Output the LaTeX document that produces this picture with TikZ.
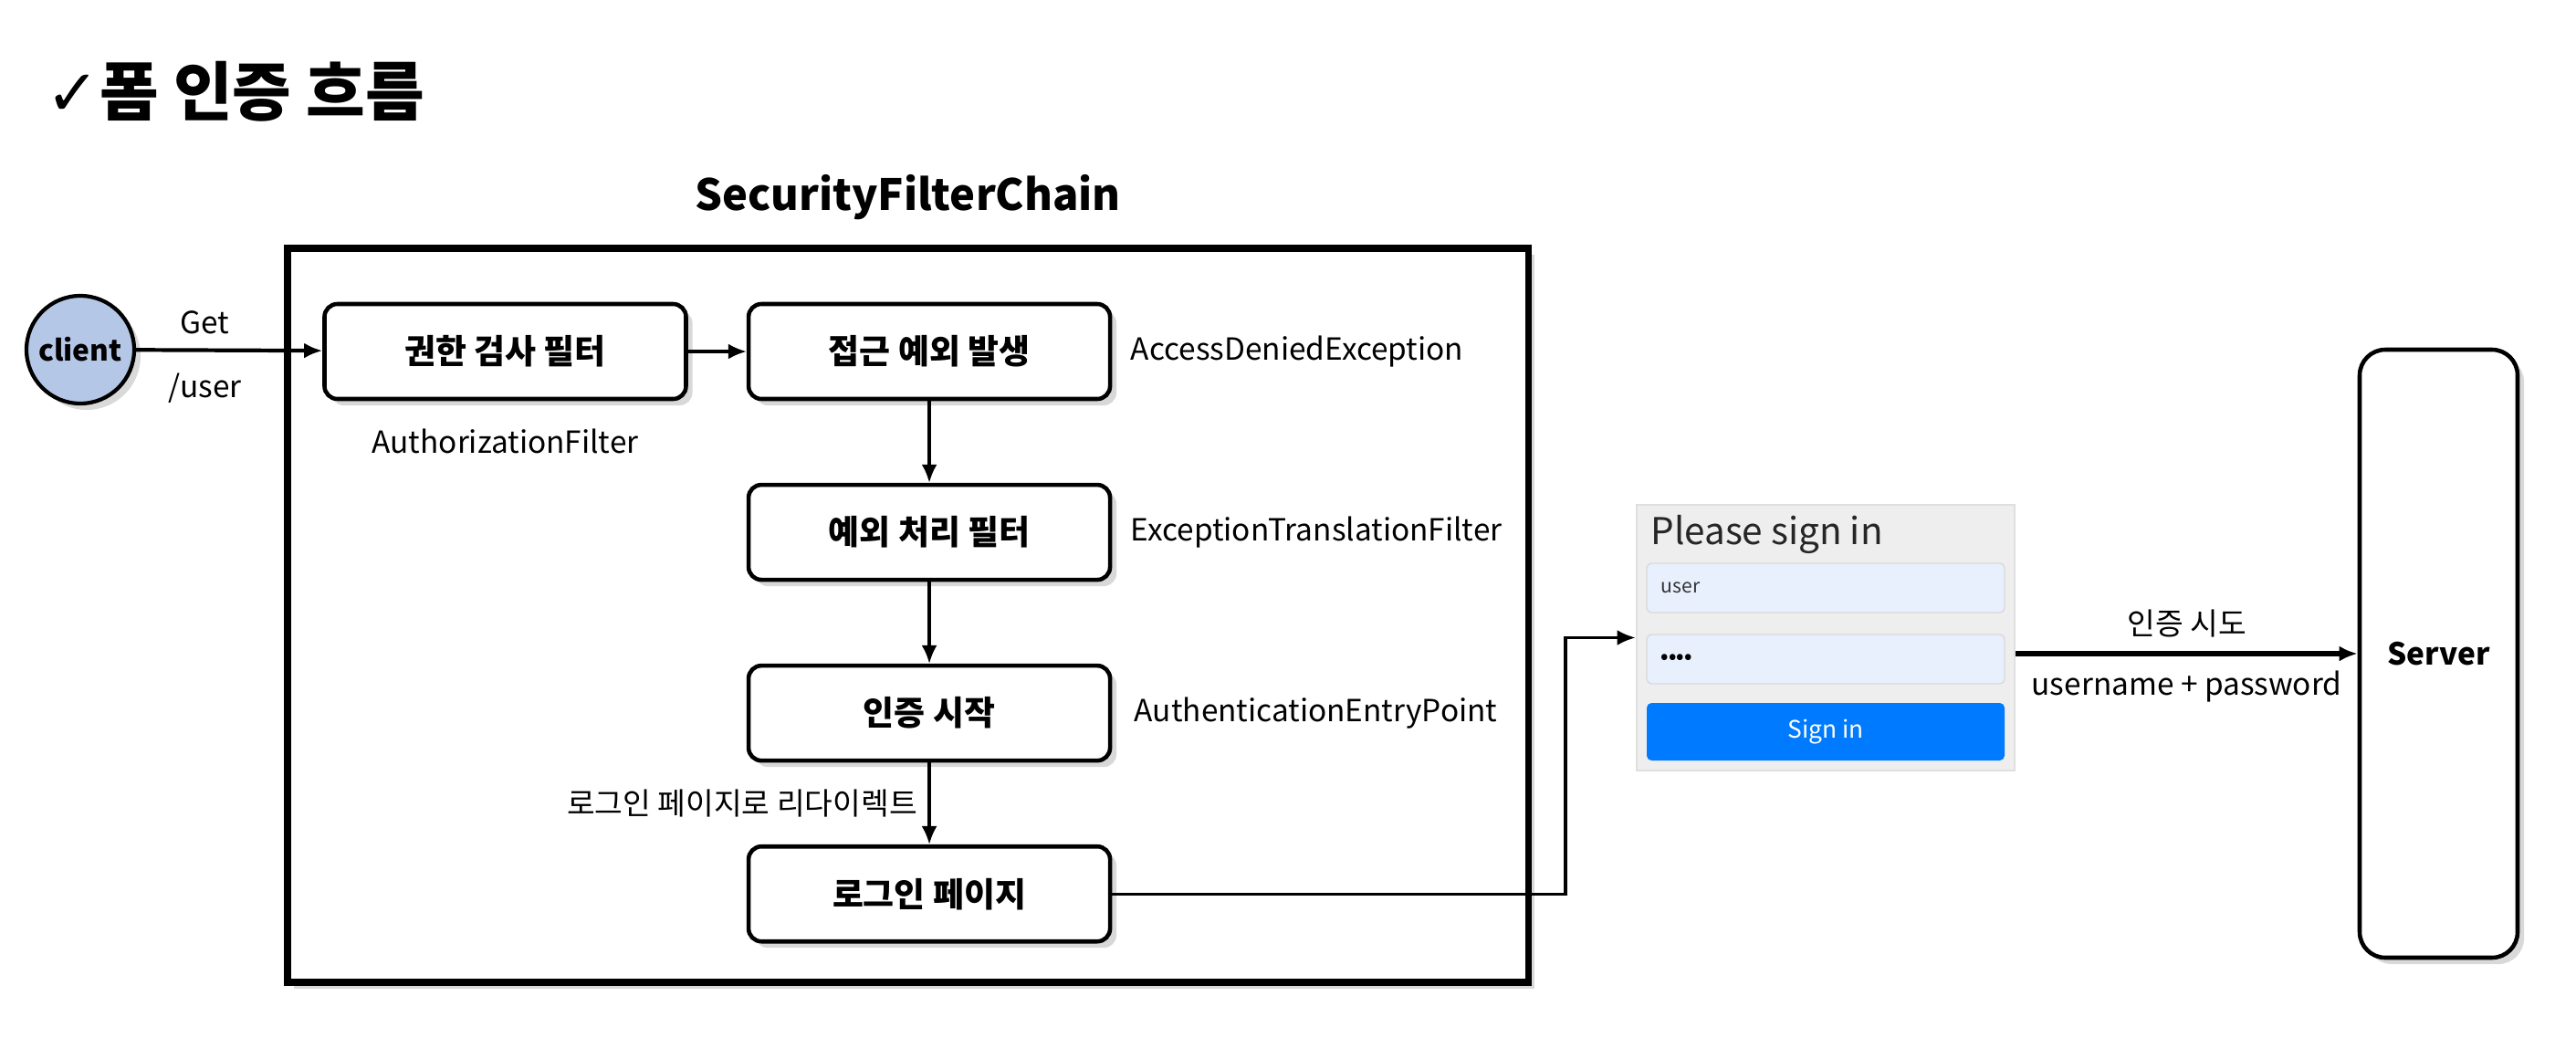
\documentclass[tikz,border=0pt]{standalone}
\usepackage{fontspec}
\setmainfont{Noto Sans CJK KR}
\newfontfamily\symfont{DejaVu Sans}
\usetikzlibrary{arrows.meta, positioning, shadows}

\definecolor{clientblue}{HTML}{B4C7E7}
\definecolor{fieldblue}{HTML}{E8F0FE}
\definecolor{btnblue}{HTML}{007BFF}
\definecolor{formgray}{HTML}{EEEEEE}

\begin{document}
\begin{tikzpicture}[
    node distance=0.895cm and 0.64cm,
    box/.style={draw, rectangle, rounded corners=4pt, line width=1.3pt, minimum width=3.96cm, minimum height=1.04cm, text centered, align=center, font=\bfseries\fontsize{10.5}{12}\selectfont, fill=white, drop shadow={shadow xshift=2pt, shadow yshift=-2pt, opacity=0.3}},
    field/.style={draw=gray!30, rectangle, rounded corners=1.5pt, minimum width=3.92cm, minimum height=0.54cm, fill=fieldblue, inner sep=0pt},
    note/.style={font=\fontsize{9.5}{11}\selectfont},
    arrow/.style={-{Latex[length=2mm, width=1.7mm]}, line width=0.9pt}
]
\useasboundingbox (0,0) rectangle (28.22,-11.6);

% 제목
\node (title) [anchor=west, font=\bfseries\fontsize{20}{24}\selectfont] at (0.38,-1.0) {{\symfont ✓}폼 인증 흐름};

% SecurityFilterChain 프레임
\node (chain) [draw, line width=2pt, fill=white, minimum width=13.59cm, minimum height=8.04cm, drop shadow={shadow xshift=2pt, shadow yshift=-2pt, opacity=0.3}] at (9.945,-6.74) {};
\node (chaintitle) [above=0.15cm of chain, font=\bfseries\fontsize{13.4}{16}\selectfont] {SecurityFilterChain};

% 클라이언트
\node (client) [circle, draw, line width=1.2pt, fill=clientblue, minimum size=1.18cm, inner sep=0pt, font=\bfseries\fontsize{9}{11}\selectfont, drop shadow={shadow xshift=2pt, shadow yshift=-2pt, opacity=0.3}] at (0.88,-3.83) {client};

% 필터 단계
\node (authz) [box] at (5.535,-3.85) {권한 검사 필터};
\node (denied) [box, right=of authz] {접근 예외 발생};
\node (transl) [box, below=of denied] {예외 처리 필터};
\node (entry) [box, below=of transl] {인증 시작};
\node (login) [box, below=of entry] {로그인 페이지};

% 클래스 이름
\node (authzname) [note, below=0.18cm of authz] {AuthorizationFilter};
\node (deniedname) [note, right=0.08cm of denied] {AccessDeniedException};
\node (translname) [note, right=0.08cm of transl] {ExceptionTranslationFilter};
\node (entryname) [note, right=0.12cm of entry] {AuthenticationEntryPoint};

% 로그인 폼
\node (signform) [draw=gray!25, line width=0.8pt, fill=formgray, minimum width=4.14cm, minimum height=2.91cm] at (20.0,-6.985) {};
\node (signtitle) [anchor=west, font=\fontsize{11.5}{14}\selectfont, text=black!85] at (17.96,-5.85) {Please sign in};
\node (userfield) [field] at (20.0,-6.44) {};
\node (usertext) [anchor=west, xshift=0.04cm, font=\fontsize{6}{7}\selectfont, text=black!80] at (userfield.west) {user};
\node (passfield) [field] at (20.0,-7.22) {};
\node (passtext) [anchor=west, xshift=0.04cm, font=\bfseries\fontsize{6}{7}\selectfont] at (passfield.west) {••••};
\node (signbtn) [field, draw=none, fill=btnblue, minimum height=0.63cm, text=white, font=\fontsize{7.5}{9}\selectfont] at (20.0,-8.015) {Sign in};

% 서버
\node (server) [box, rounded corners=8pt, minimum width=1.73cm, minimum height=6.66cm, font=\bfseries\fontsize{9.5}{11}\selectfont] at (26.715,-7.16) {Server};

% 연결선
\draw [arrow, line width=1.2pt] (client) -- (authz) node[pos=0.37, above, note, yshift=0.04cm] {Get} node[pos=0.37, below, note, yshift=-0.12cm] {/user};
\draw [arrow] (authz) -- (denied);
\draw [arrow] (denied) -- (transl);
\draw [arrow] (transl) -- (entry);
\draw [arrow] (entry) -- (login) node[midway, left, note] {로그인 페이지로 리다이렉트};

\coordinate (turn) at (17.15,-6.985);
\draw [arrow] (login) -| (turn) -- (signform);
\draw [arrow, line width=1.5pt] (signform.east |- server.west) -- (server.west) node[midway, above, note, yshift=0.04cm] {인증 시도} node[midway, below, note, yshift=-0.05cm] {username + password};

\end{tikzpicture}
\end{document}
